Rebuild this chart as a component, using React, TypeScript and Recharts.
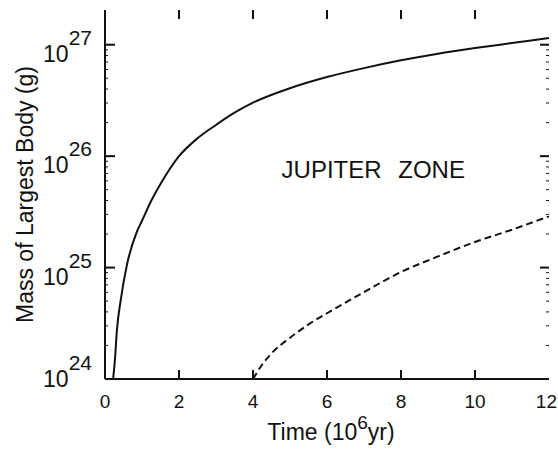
import { LineChart, Line, XAxis, YAxis, ReferenceDot } from "recharts";

// Solid curve: time (10^6 yr) and log10 of mass (g)
const solidTime = [0.22, 0.27, 0.32, 0.43, 0.59, 0.86, 1.0, 1.25, 1.5, 2.0, 2.5, 3.0, 3.5, 4.0, 5.0, 6.0, 7.0, 8.0, 9.0, 10.0, 11.0, 12.0];
const solidLogMass = [24.0, 24.18, 24.43, 24.72, 25.02, 25.32, 25.42, 25.6, 25.75, 26.0, 26.16, 26.28, 26.39, 26.48, 26.61, 26.71, 26.79, 26.86, 26.92, 26.97, 27.015, 27.06];

// Dashed curve
const dashedTime = [4.0, 4.25, 4.5, 5.0, 5.5, 6.0, 7.0, 8.0, 9.0, 10.0, 11.0, 12.0];
const dashedLogMass = [24.0, 24.13, 24.23, 24.37, 24.49, 24.59, 24.78, 24.96, 25.1, 25.23, 25.34, 25.46];

const timeTicks = [0, 2, 4, 6, 8, 10, 12];
const decades = [1e24, 1e25, 1e26, 1e27];
const minorFactors = [2, 3, 4, 5, 6, 7, 8, 9];
const massDomain = [1e24, 2.05e27];

const WIDTH = 558;
const HEIGHT = 450;
const MARGIN = { top: 10, right: 9, left: 0, bottom: 0 };
const Y_AXIS_W = 105;
const X_AXIS_H = 71;
const PLOT_W = WIDTH - MARGIN.right - MARGIN.left - Y_AXIS_W;
const PLOT_H = HEIGHT - MARGIN.top - MARGIN.bottom - X_AXIS_H;

const INK = "#111";
const FONT = "'Liberation Sans', Arial, sans-serif";
const AXIS = { stroke: INK, strokeWidth: 2 };

const solidData = solidTime.map((t, i) => ({ t, mass: 10 ** solidLogMass[i] }));
const dashedData = dashedTime.map((t, i) => ({ t, mass: 10 ** dashedLogMass[i] }));

// decades plus the small ticks between them
const massTicks = decades
  .slice(0, 3)
  .flatMap((d) => minorFactors.map((m) => m * d))
  .concat(decades)
  .sort((a, b) => a - b);

const isDecade = (v: number) => {
  const e = Math.log10(v);
  return Math.abs(e - Math.round(e)) < 1e-6;
};

// bottom labels, inward marks on bottom and top edges
function BottomTick(props: any) {
  const { x, y, payload } = props;
  const v = payload.value;
  const inner = v > 0 && v < 12;
  const last = v === 12;
  return (
    <g>
      {inner && <line x1={x} y1={y} x2={x} y2={y - 9} stroke={INK} strokeWidth={2} />}
      {inner && <line x1={x} y1={y - PLOT_H} x2={x} y2={y - PLOT_H + 9} stroke={INK} strokeWidth={2} />}
      <text
        x={last ? x + 8 : x}
        y={y + 29}
        textAnchor={last ? "end" : "middle"}
        fontSize={19}
        fill={INK}
        fontFamily={FONT}
      >
        {v}
      </text>
    </g>
  );
}

// left labels, inward marks on left and right edges
function LeftTick(props: any) {
  const { x, y, payload } = props;
  const v = payload.value;
  if (!isDecade(v)) {
    return (
      <g>
        <line x1={x} y1={y} x2={x + 3} y2={y} stroke={INK} strokeWidth={1} />
        <line x1={x + PLOT_W} y1={y} x2={x + PLOT_W - 3} y2={y} stroke={INK} strokeWidth={1} />
      </g>
    );
  }
  const exp = Math.round(Math.log10(v));
  const shift = exp === 24 ? -9 : 0;
  return (
    <g>
      <line x1={x} y1={y} x2={x + 10} y2={y} stroke={INK} strokeWidth={2} />
      <line x1={x + PLOT_W} y1={y} x2={x + PLOT_W - 9} y2={y} stroke={INK} strokeWidth={2} />
      <text x={x - 13} y={y + 17 + shift} textAnchor="end" fontSize={23} fill={INK} fontFamily={FONT}>
        10
        <tspan dy={-17} fontSize={21}>
          {exp}
        </tspan>
      </text>
    </g>
  );
}

export default function App() {
  return (
    <div style={{ position: "absolute", left: 0, top: 0, background: "#fff" }}>
      <LineChart width={WIDTH} height={HEIGHT} margin={MARGIN}>
        <XAxis
          xAxisId="bottom"
          dataKey="t"
          type="number"
          domain={[0, 12]}
          ticks={timeTicks}
          height={X_AXIS_H}
          tickLine={false}
          tickSize={0}
          tickMargin={0}
          axisLine={AXIS}
          tick={(p: any) => <BottomTick {...p} />}
          interval={0}
          label={{
            content: (p: any) => {
              const vb = p.viewBox;
              return (
                <text
                  x={vb.x + vb.width / 2 + 4}
                  y={vb.y + 61}
                  textAnchor="middle"
                  fontSize={23}
                  fill={INK}
                  fontFamily={FONT}
                >
                  Time (10
                  <tspan dy={-11} fontSize={19}>
                    6
                  </tspan>
                  <tspan dy={11}>yr)</tspan>
                </text>
              );
            },
          }}
        />
        <XAxis
          xAxisId="top"
          orientation="top"
          type="number"
          domain={[0, 12]}
          height={0}
          tick={false}
          tickLine={false}
          axisLine={AXIS}
        />
        <YAxis
          yAxisId="left"
          scale="log"
          type="number"
          domain={massDomain}
          allowDataOverflow
          ticks={massTicks}
          width={Y_AXIS_W}
          tickLine={false}
          tickSize={0}
          tickMargin={0}
          axisLine={AXIS}
          tick={(p: any) => <LeftTick {...p} />}
          interval={0}
          label={{
            content: (p: any) => {
              const vb = p.viewBox;
              const cx = 25;
              const cy = vb.y + vb.height / 2;
              return (
                <text
                  x={cx}
                  y={cy}
                  transform={`rotate(-90 ${cx} ${cy})`}
                  textAnchor="middle"
                  dominantBaseline="central"
                  fontSize={23}
                  fill={INK}
                  fontFamily={FONT}
                >
                  Mass of Largest Body (g)
                </text>
              );
            },
          }}
        />
        <YAxis
          yAxisId="right"
          orientation="right"
          scale="log"
          type="number"
          domain={massDomain}
          allowDataOverflow
          width={0}
          tick={false}
          tickLine={false}
          axisLine={AXIS}
        />
        <Line
          xAxisId="bottom"
          yAxisId="left"
          data={solidData}
          dataKey="mass"
          type="monotone"
          stroke={INK}
          strokeWidth={2}
          dot={false}
          isAnimationActive={false}
        />
        <Line
          xAxisId="bottom"
          yAxisId="left"
          data={dashedData}
          dataKey="mass"
          type="monotone"
          stroke={INK}
          strokeWidth={2}
          strokeDasharray="7 4"
          dot={false}
          isAnimationActive={false}
        />
        <ReferenceDot
          xAxisId="bottom"
          yAxisId="left"
          x={7.25}
          y={7.6e25}
          r={0}
          label={{
            value: "JUPITER ZONE",
            position: "center",
            fontSize: 24,
            fill: INK,
            fontFamily: FONT,
            wordSpacing: 10,
          }}
        />
      </LineChart>
    </div>
  );
}
